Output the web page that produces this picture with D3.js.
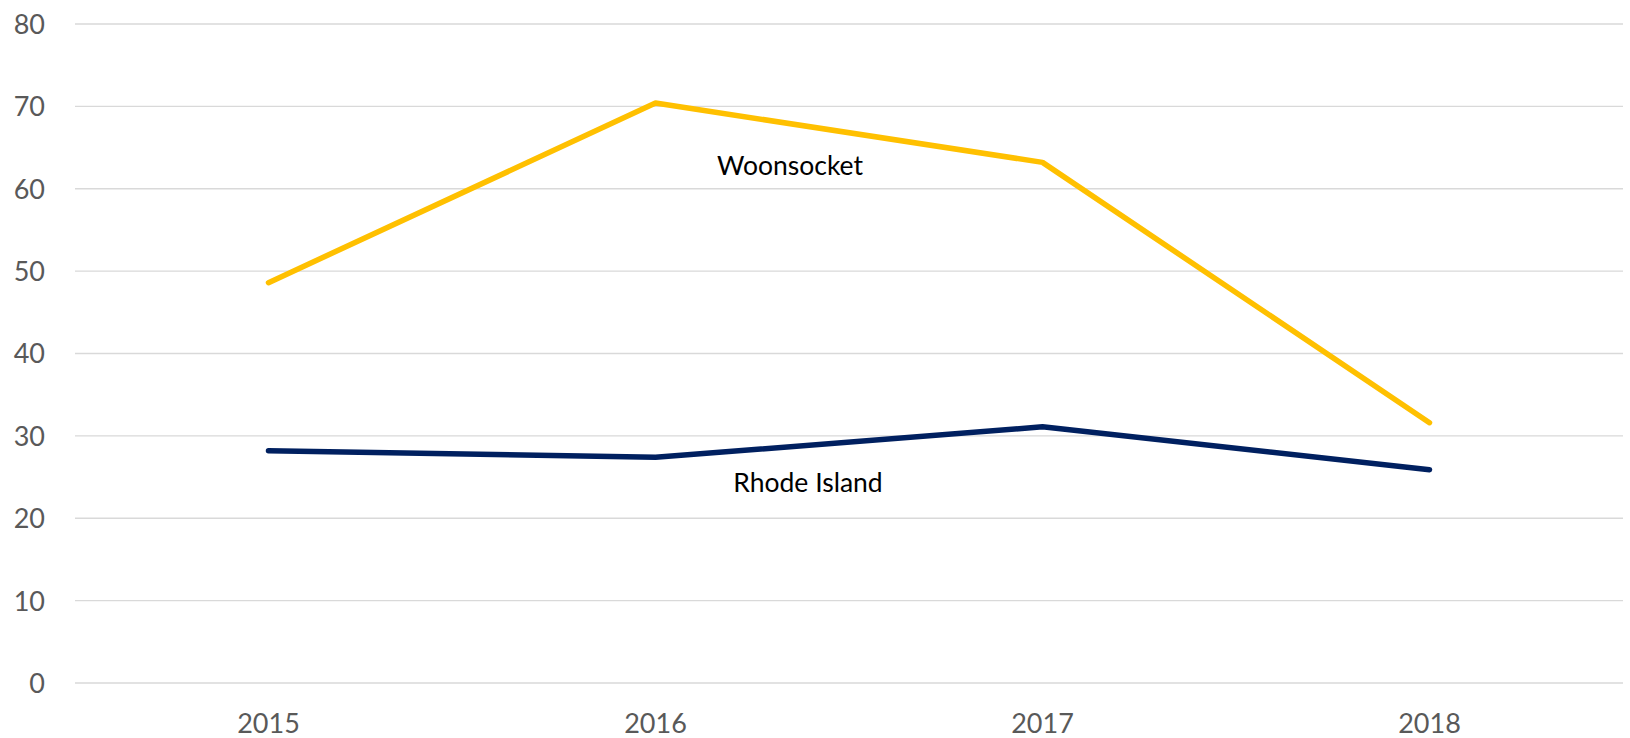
<!DOCTYPE html>
<html>
<head>
<meta charset="utf-8">
<script src="https://cdn.jsdelivr.net/npm/d3@7"></script>
<style>
  html, body { margin: 0; padding: 0; background: #fff; }
  svg { display: block; }
</style>
</head>
<body>
<svg id="chart" width="1630" height="738"></svg>
<script>
const years = ["2015", "2016", "2017", "2018"];
const woonsocket = [48.6, 70.4, 63.2, 31.6];
const rhodeIsland = [28.2, 27.4, 31.1, 25.9];
const yTicks = [0, 10, 20, 30, 40, 50, 60, 70, 80];
const seriesNames = ["Woonsocket", "Rhode Island"];

const svg = d3.select("#chart");
const margin = { left: 75, right: 7, top: 24, bottom: 55 };
const W = 1630, H = 738;

const x = d3.scaleBand().domain(years).range([margin.left, W - margin.right]).padding(0);
const y = d3.scaleLinear().domain([0, 80]).range([H - margin.bottom, margin.top]);

const font = "Lato, 'Open Sans', sans-serif";

// gridlines
svg.append("g")
  .selectAll("line")
  .data(yTicks)
  .join("line")
  .attr("x1", margin.left)
  .attr("x2", W - margin.right)
  .attr("y1", d => y(d))
  .attr("y2", d => y(d))
  .attr("stroke", "#d9d9d9")
  .attr("stroke-width", 1.3);

// y axis labels
const yAxis = d3.axisLeft(y).tickValues(yTicks).tickSize(0).tickPadding(0);
const gy = svg.append("g").attr("transform", `translate(${margin.left - 30},0)`).call(yAxis);
gy.select(".domain").remove();
gy.selectAll("text")
  .attr("fill", "#595959")
  .style("font-family", font)
  .style("font-size", "27px")
  .attr("dy", "0.35em");

// x axis labels
const xAxis = d3.axisBottom(x).tickSize(0).tickPadding(0);
const gx = svg.append("g").attr("transform", `translate(0,${H - margin.bottom})`).call(xAxis);
gx.select(".domain").remove();
gx.selectAll("text")
  .attr("fill", "#595959")
  .style("font-family", font)
  .style("font-size", "27px")
  .attr("y", 50)
  .attr("dy", 0);

const line = d3.line()
  .x((d, i) => x(years[i]) + x.bandwidth() / 2)
  .y(d => y(d));

svg.append("path")
  .datum(rhodeIsland)
  .attr("d", line)
  .attr("fill", "none")
  .attr("stroke", "#002060")
  .attr("stroke-width", 5.5)
  .attr("stroke-linecap", "round")
  .attr("stroke-linejoin", "round");

svg.append("path")
  .datum(woonsocket)
  .attr("d", line)
  .attr("fill", "none")
  .attr("stroke", "#FFC000")
  .attr("stroke-width", 5.5)
  .attr("stroke-linecap", "round")
  .attr("stroke-linejoin", "round");

// series labels
svg.append("text")
  .attr("x", 790)
  .attr("y", 175)
  .attr("text-anchor", "middle")
  .style("font-family", font)
  .style("font-size", "26.5px")
  .attr("fill", "#000")
  .text(seriesNames[0]);

svg.append("text")
  .attr("x", 808)
  .attr("y", 491.5)
  .attr("text-anchor", "middle")
  .style("font-family", font)
  .style("font-size", "26.5px")
  .attr("fill", "#000")
  .text(seriesNames[1]);
</script>
</body>
</html>
